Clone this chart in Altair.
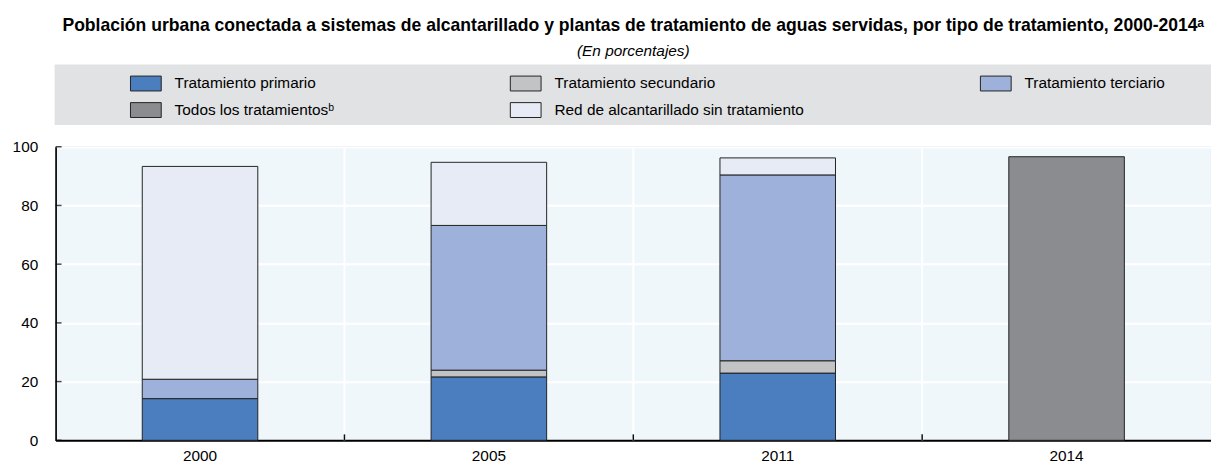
import altair as alt
import pandas as pd

years = ["2000", "2005", "2011", "2014"]
categories = [
    "Tratamiento primario",
    "Tratamiento secundario",
    "Tratamiento terciario",
    "Todos los tratamientosᵇ",
    "Red de alcantarillado sin tratamiento",
]
colors = ["#4A7EBF", "#C2C3C5", "#9EB1DA", "#8B8C90", "#E7EBF6"]
# legend fills column by column
legend_order = [0, 3, 1, 4, 2]

primario = [14.2, 21.6, 22.9, None]
secundario = [None, 2.3, 4.2, None]
terciario = [6.6, 49.3, 63.3, None]
todos = [None, None, None, 96.6]
sin_tratamiento = [72.5, 21.5, 5.8, None]

series = [primario, secundario, terciario, todos, sin_tratamiento]
rows = []
for ci, (cat, vals) in enumerate(zip(categories, series)):
    for y, v in zip(years, vals):
        if v is not None:
            rows.append({"anio": y, "tipo": cat, "valor": v, "orden": ci})
df = pd.DataFrame(rows)

y_ticks = [0, 20, 40, 60, 80, 100]
boundaries = ["2005", "2011", "2014"]

W, H = 1165, 296
FONT = "Liberation Sans"
FS = 15.5

xscale = alt.Scale(domain=years, paddingInner=0, paddingOuter=0)
yscale = alt.Scale(domain=[0, 100], nice=False)

rect_sym = "M-1,-0.484H1V0.484H-1Z"

bars = alt.Chart(df).mark_bar(
    width={"band": 0.4}, stroke="#222", strokeWidth=1
).encode(
    x=alt.X(
        "anio:N", scale=xscale, sort=years, title=None,
        axis=alt.Axis(
            labelAngle=0, labelAlign="center", labelFontSize=FS, labelFont=FONT,
            labelColor="#000", ticks=False, grid=False, domainColor="#000",
            domainWidth=2, labelPadding=15,
        ),
    ),
    y=alt.Y(
        "valor:Q", stack="zero", scale=yscale, title=None,
        axis=alt.Axis(
            values=y_ticks, labelFontSize=FS, labelFont=FONT, labelColor="#000",
            ticks=False, grid=True, gridColor="white", gridWidth=2,
            domainColor="#000", domainWidth=1.5, labelPadding=18,
        ),
    ),
    color=alt.Color(
        "tipo:N",
        scale=alt.Scale(domain=[categories[i] for i in legend_order],
                        range=[colors[i] for i in legend_order]),
        legend=alt.Legend(
            title=None, orient="none", legendX=75, legendY=-80, columns=3,
            gridAlign="each", columnPadding=175, rowPadding=1,
            symbolType=rect_sym, symbolSize=961, symbolStrokeColor="#222",
            symbolStrokeWidth=1, symbolOpacity=1, labelFontSize=FS, labelFont=FONT,
            labelColor="#000", labelOffset=13, labelLimit=450,
        ),
    ),
    order=alt.Order("orden:Q"),
)

legend_bg = alt.Chart(pd.DataFrame({"a": [0]})).mark_rect(color="#E1E2E4").encode(
    x=alt.value(-1), x2=alt.value(W), y=alt.value(-83), y2=alt.value(-22)
)

vgrid = alt.Chart(pd.DataFrame({"anio": boundaries})).mark_rule(
    color="white", strokeWidth=2
).encode(
    x=alt.X("anio:N", bandPosition=0, scale=xscale, title=None),
)

xticks = alt.Chart(pd.DataFrame({"anio": boundaries})).mark_rule(
    color="#111", strokeWidth=1.5
).encode(
    x=alt.X("anio:N", bandPosition=0, scale=xscale, title=None),
    y=alt.value(H - 6), y2=alt.value(H),
)

yticks = alt.Chart(pd.DataFrame({"valor": y_ticks})).mark_tick(
    orient="horizontal", size=6, thickness=1.5, color="#000"
).encode(
    y=alt.Y("valor:Q", scale=yscale, title=None),
    x=alt.value(3),
)

chart = alt.layer(legend_bg, vgrid, bars, xticks, yticks).properties(
    width=W, height=H,
    padding={"left": 48, "top": 138, "right": 0, "bottom": 24},
    autosize=alt.AutoSizeParams(type="none"),
    title=alt.TitleParams(
        text="Población urbana conectada a sistemas de alcantarillado y plantas de tratamiento de aguas servidas, por tipo de tratamiento, 2000-2014ᵃ",
        subtitle="(En porcentajes)",
        font=FONT, fontSize=17.7, fontWeight="bold", color="#000",
        subtitleFont=FONT, subtitleFontSize=FS, subtitleFontStyle="italic",
        subtitleColor="#000", subtitlePadding=10,
        anchor="middle", dx=0, offset=5,
    ),
).configure_view(
    fill="#EFF7FB", stroke="#333", strokeWidth=1
)

chart.save("out.html", embed_options={"renderer": "svg", "actions": False})
